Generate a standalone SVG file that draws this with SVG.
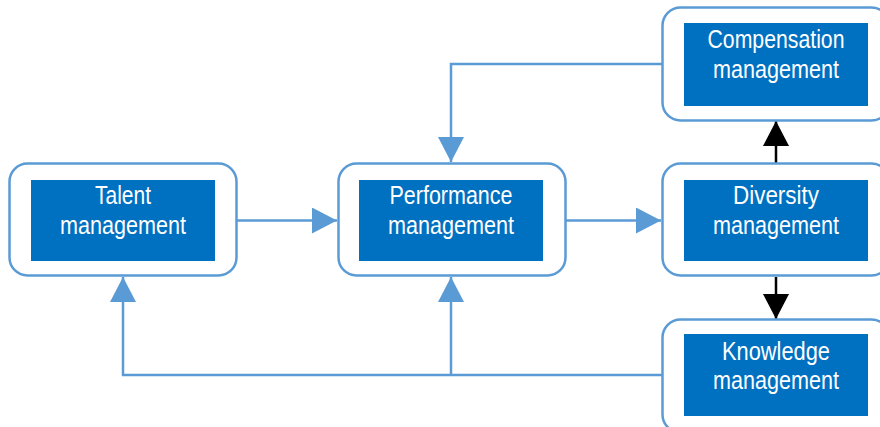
<svg xmlns="http://www.w3.org/2000/svg" width="880" height="427" viewBox="0 0 880 427">
<defs>
<style>
.outer{fill:#fff;stroke:#5B9BD5;stroke-width:2.5}
.inner{fill:#0070C0}
.t{font-family:"Liberation Sans",Arial,sans-serif;font-size:25.5px;fill:#fff;text-anchor:middle}
.c{fill:none;stroke:#5B9BD5;stroke-width:2.5}
.k{fill:none;stroke:#000;stroke-width:2.5}
</style>
<marker id="ab" viewBox="0 0 25 26" refX="25" refY="13" markerWidth="25" markerHeight="26" markerUnits="userSpaceOnUse" orient="auto"><path d="M0,0L25,13L0,26Z" fill="#5B9BD5"/></marker>
<marker id="ak" viewBox="0 0 25 26" refX="25" refY="13" markerWidth="25" markerHeight="26" markerUnits="userSpaceOnUse" orient="auto"><path d="M0,0L25,13L0,26Z" fill="#000"/></marker>
</defs>
<g id="connectors">
<path class="c" d="M237,220.5H337" marker-end="url(#ab)"/>
<path class="c" d="M565,220.5H661" marker-end="url(#ab)"/>
<path class="c" d="M662,64H451V162" marker-end="url(#ab)"/>
<path class="c" d="M662,375H123V277" marker-end="url(#ab)"/>
<path class="c" d="M451,375V277" marker-end="url(#ab)"/>
<path class="k" d="M776,163V121" marker-end="url(#ak)"/>
<path class="k" d="M776,277V319" marker-end="url(#ak)"/>
</g>
<g id="talent">
<rect class="outer" x="9.5" y="163.5" width="227" height="112" rx="18"/>
<rect class="inner" x="31" y="180" width="184" height="81"/>
<text class="t" x="123" y="204" textLength="56" lengthAdjust="spacingAndGlyphs">Talent</text>
<text class="t" x="123" y="233.5" textLength="126" lengthAdjust="spacingAndGlyphs">management</text>
</g>
<g id="performance">
<rect class="outer" x="338.5" y="163.5" width="227" height="112" rx="18"/>
<rect class="inner" x="359" y="180" width="184" height="81"/>
<text class="t" x="451" y="204" textLength="123" lengthAdjust="spacingAndGlyphs">Performance</text>
<text class="t" x="451" y="233.5" textLength="126" lengthAdjust="spacingAndGlyphs">management</text>
</g>
<g id="diversity">
<rect class="outer" x="662.5" y="163.5" width="227" height="112" rx="18"/>
<rect class="inner" x="684" y="180" width="184" height="81"/>
<text class="t" x="776" y="204" textLength="86" lengthAdjust="spacingAndGlyphs">Diversity</text>
<text class="t" x="776" y="233.5" textLength="126" lengthAdjust="spacingAndGlyphs">management</text>
</g>
<g id="compensation">
<rect class="outer" x="662.5" y="7.5" width="227" height="113" rx="18"/>
<rect class="inner" x="684" y="23" width="184" height="83"/>
<text class="t" x="776" y="48" textLength="137" lengthAdjust="spacingAndGlyphs">Compensation</text>
<text class="t" x="776" y="77.5" textLength="126" lengthAdjust="spacingAndGlyphs">management</text>
</g>
<g id="knowledge">
<rect class="outer" x="662.5" y="319.5" width="227" height="113" rx="18"/>
<rect class="inner" x="684" y="334" width="184" height="82"/>
<text class="t" x="776" y="359.5" textLength="108" lengthAdjust="spacingAndGlyphs">Knowledge</text>
<text class="t" x="776" y="389" textLength="126" lengthAdjust="spacingAndGlyphs">management</text>
</g>
</svg>
